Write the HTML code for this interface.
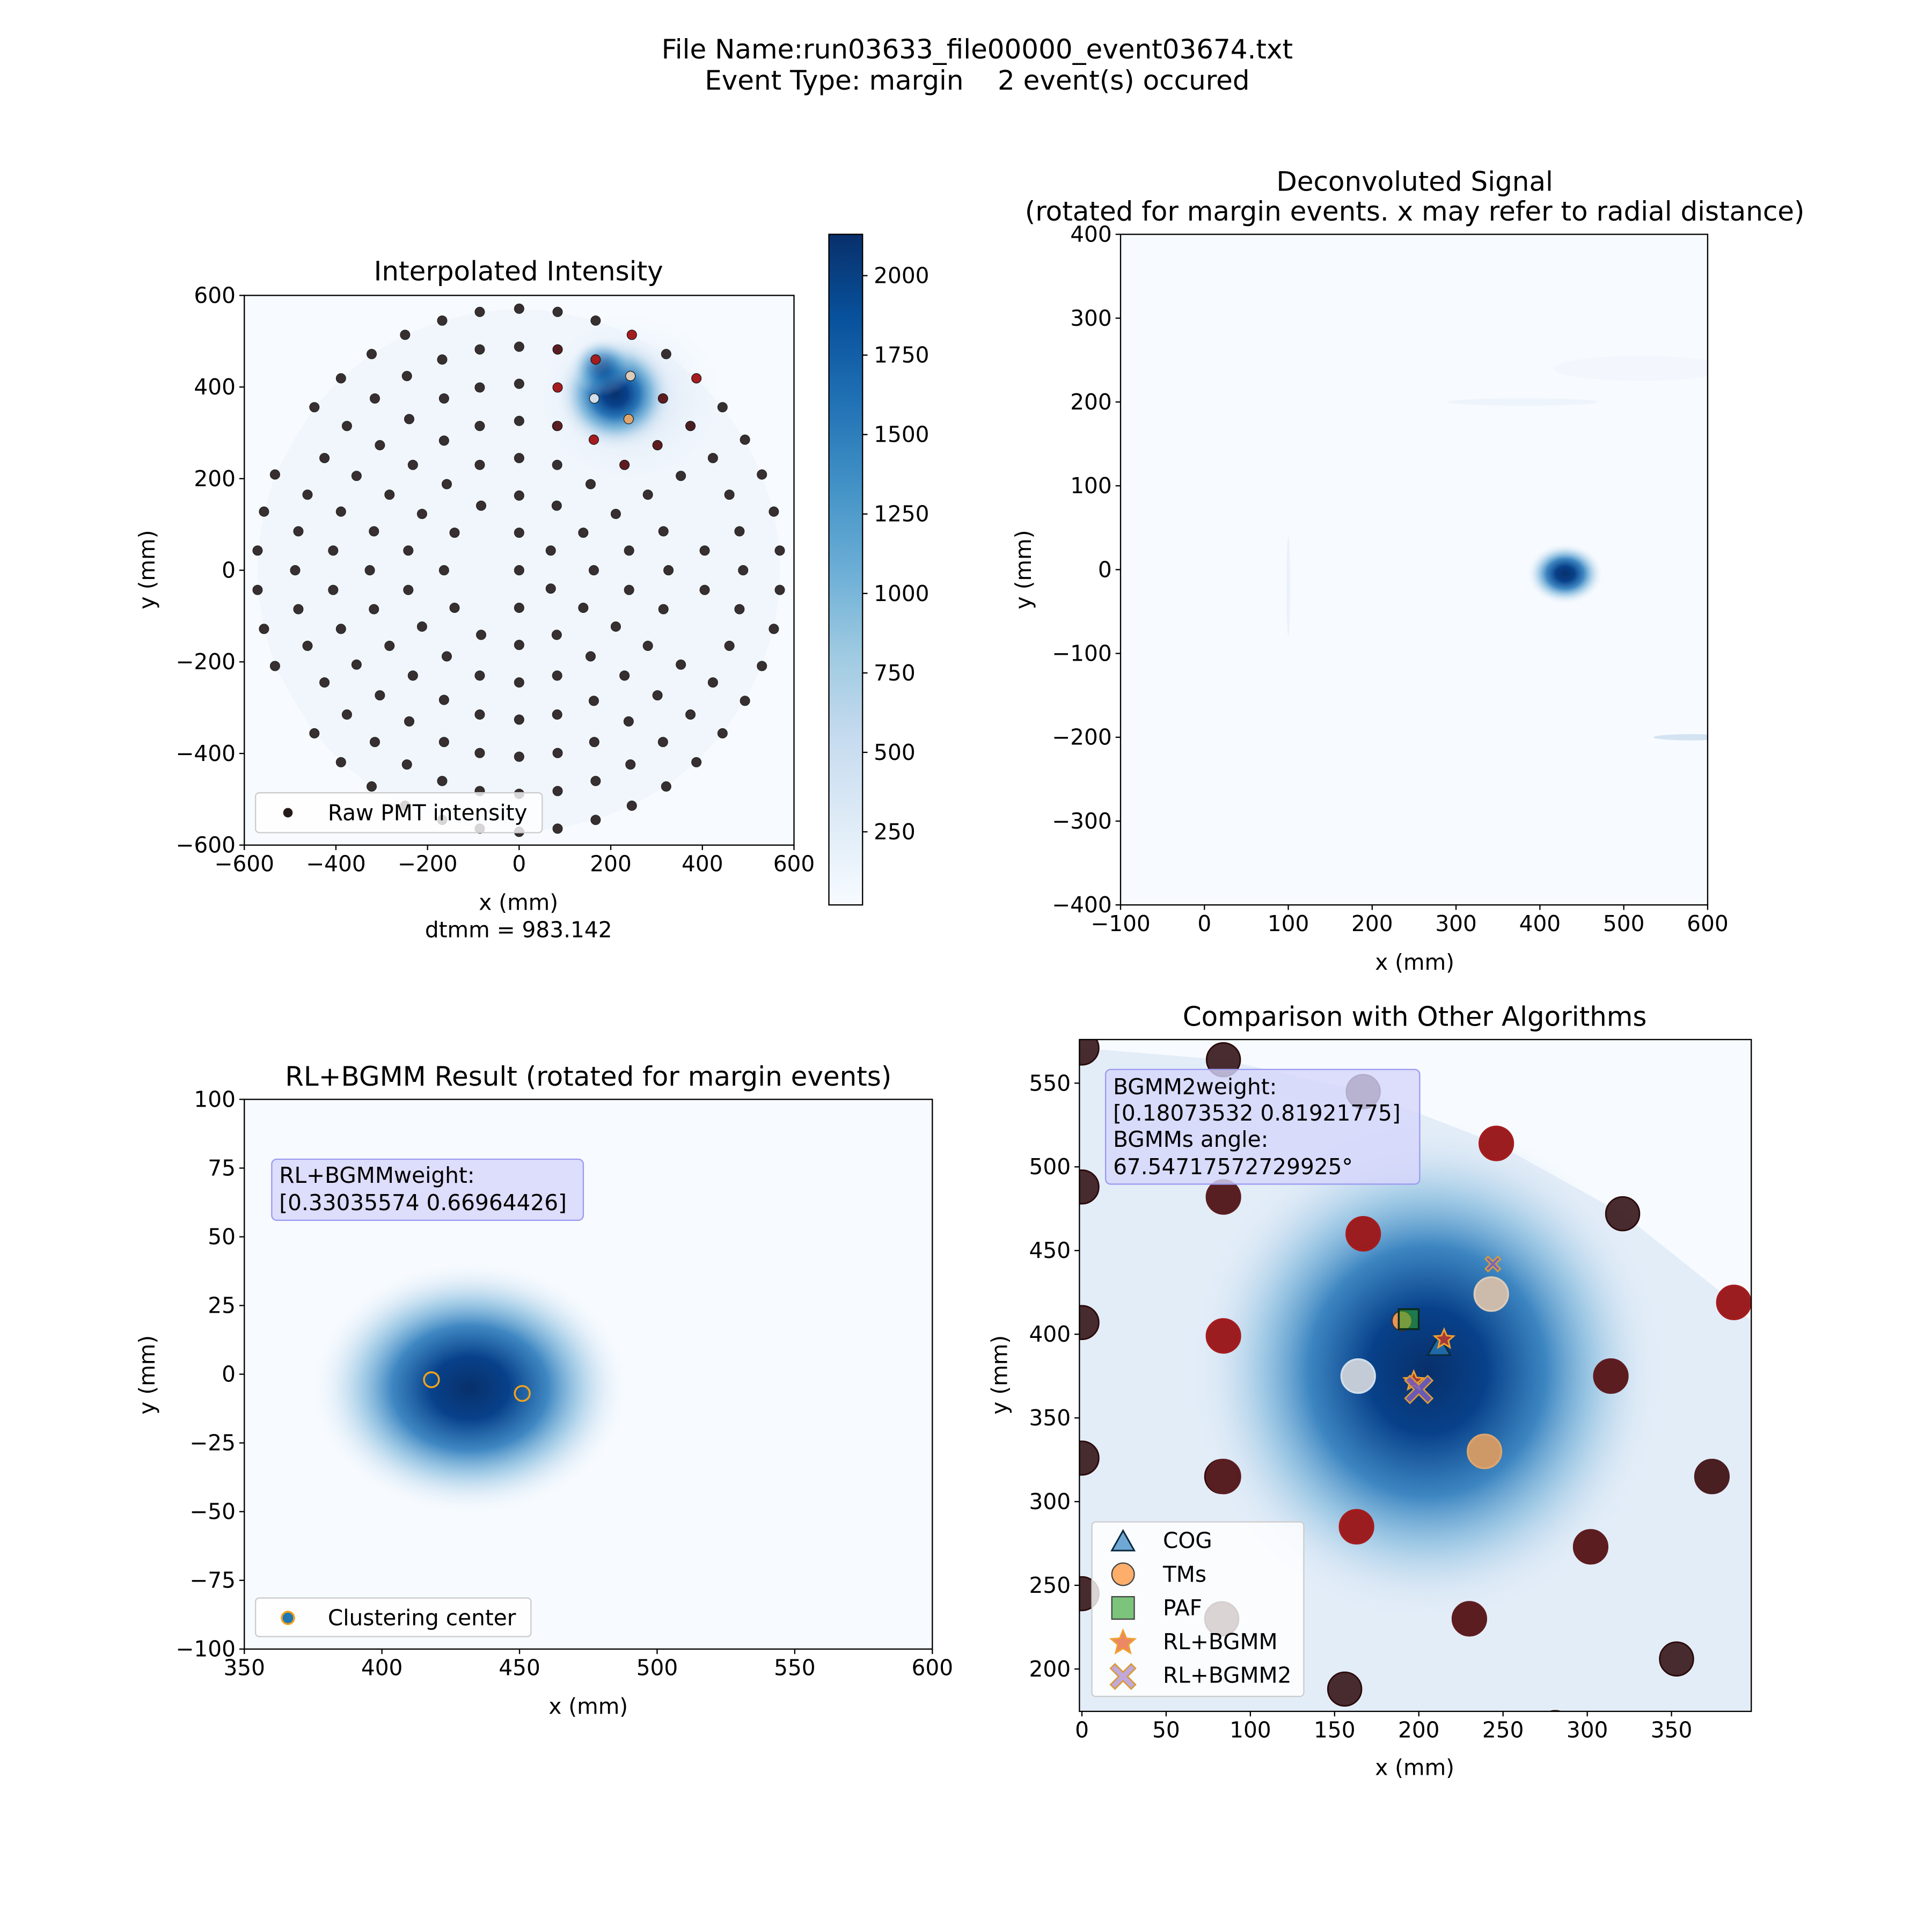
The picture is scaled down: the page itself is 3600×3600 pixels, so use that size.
<!DOCTYPE html>
<html><head><meta charset="utf-8">
<style>
html,body{margin:0;padding:0;background:#fff;width:3600px;height:3600px;overflow:hidden;}
svg{display:block;position:absolute;left:0;top:0;}
text{font-family:"DejaVu Sans","Liberation Sans",sans-serif;fill:#000;}
</style></head>
<body>
<svg id="fig" xmlns="http://www.w3.org/2000/svg" width="3600" height="3600" viewBox="0 0 1550 1550">
<defs>
 <linearGradient id="cbar" x1="0" y1="1" x2="0" y2="0">
  <stop offset="0" stop-color="#f7fbff"/><stop offset="0.125" stop-color="#deebf7"/><stop offset="0.25" stop-color="#c6dbef"/><stop offset="0.375" stop-color="#9ecae1"/><stop offset="0.5" stop-color="#6baed6"/><stop offset="0.625" stop-color="#4292c6"/><stop offset="0.75" stop-color="#2171b5"/><stop offset="0.875" stop-color="#08519c"/><stop offset="1" stop-color="#08306b"/>
 </linearGradient>
 <radialGradient id="blob">
  <stop offset="0" stop-color="#08306b" stop-opacity="1"/><stop offset="0.2" stop-color="#08418a" stop-opacity="1"/><stop offset="0.4" stop-color="#1f6fb3" stop-opacity="0.95"/><stop offset="0.6" stop-color="#5aa3d1" stop-opacity="0.7"/><stop offset="0.8" stop-color="#b3d2ea" stop-opacity="0.35"/><stop offset="1" stop-color="#e6effa" stop-opacity="0"/>
 </radialGradient>
 <radialGradient id="halo">
  <stop offset="0" stop-color="#c6dbef" stop-opacity="0.8"/><stop offset="1" stop-color="#e6effa" stop-opacity="0"/>
 </radialGradient>
 <radialGradient id="blob2">
  <stop offset="0" stop-color="#08306b" stop-opacity="1"/><stop offset="0.25" stop-color="#08418a" stop-opacity="1"/><stop offset="0.5" stop-color="#2a7abb" stop-opacity="0.9"/><stop offset="0.7" stop-color="#74b2d9" stop-opacity="0.6"/><stop offset="0.88" stop-color="#c4dbef" stop-opacity="0.3"/><stop offset="1" stop-color="#dde9f6" stop-opacity="0"/>
 </radialGradient>
 <clipPath id="c1"><rect x="196" y="237" width="441" height="441"/></clipPath>
 <clipPath id="c2"><rect x="899" y="188" width="471" height="538"/></clipPath>
 <clipPath id="c3"><rect x="196" y="882" width="552" height="441"/></clipPath>
 <clipPath id="c4"><rect x="866" y="834" width="539" height="539"/></clipPath>
</defs>
<g id="root"></g>
</svg>
<script>
// ---- data ----
const pmtX = [-571,-406,-242,69,240,405,569,-482,-317,-141,0,140,315,481,-557,-389,-212,211,556,-462,-283,0,281,459,-158,156,-83,82,-533,-355,353,530,-232,-86,83,230,-425,0,423,-304,302,-164,163,493,-376,-86,83,374,0,-240,239,-447,444,-315,-164,164,314,-86,84,0,-389,387,-245,243,-168,167,-86,84,0,-322,321,-249,246,-168,167,-86,84,0,
 -489,-326,-164,0,163,326,489,
 -571,-406,-242,69,240,405,569,-482,-317,-141,0,140,315,481,-557,-389,-212,211,556,-462,-283,0,281,459,-158,156,-83,82,-533,-355,353,530,-232,-86,83,230,-425,0,423,-304,302,-164,163,493,-376,-86,83,374,0,-240,239,-447,444,-315,-164,164,314,-86,84,0,-389,387,-245,243,-168,167,-86,84,0,-322,321,-249,246,-168,167,-86,84,0];
const pmtY = [43,43,43,43,43,43,43,85,85,82,82,82,85,85,128,128,123,123,128,165,165,163,165,165,188,188,141,141,209,206,206,209,230,230,230,230,245,245,245,273,273,283,285,285,315,315,315,315,326,330,330,356,356,375,375,375,375,399,399,407,419,419,424,424,460,460,482,482,488,472,472,514,514,545,545,564,564,571,
 0,0,0,0,0,0,0,
 -43,-43,-43,-40,-43,-43,-43,-85,-85,-82,-82,-82,-85,-85,-128,-128,-123,-123,-128,-165,-165,-163,-165,-165,-188,-188,-141,-141,-209,-206,-206,-209,-230,-230,-230,-230,-245,-245,-245,-273,-273,-283,-285,-285,-315,-315,-315,-315,-326,-330,-330,-356,-356,-375,-375,-375,-375,-399,-399,-407,-419,-419,-424,-424,-460,-460,-482,-482,-488,-472,-472,-514,-514,-545,-545,-564,-564,-571];
const hiX = [246,167,84,387,163,314,374,302,230,84,84,164,243,239];
const hiY = [514,460,399,419,285,375,315,273,230,482,315,375,424,330];
const hiC = ['#a51c1e','#a51c1e','#a51c1e','#a51c1e','#a51c1e','#5e1c20','#4a1e21','#5e1c20','#5e1c20','#5a1e22','#5a1e22','#d2deea','#dccbb9','#dea56e'];
const cbTicks = [250,500,750,1000,1250,1500,1750,2000];
const p1Ticks = [-600,-400,-200,0,200,400,600];
const p2XTicks = [-100,0,100,200,300,400,500,600];
const p2YTicks = [-400,-300,-200,-100,0,100,200,300,400];
const p3XTicks = [350,400,450,500,550,600];
const p3YTicks = [-100,-75,-50,-25,0,25,50,75,100];
const p4XTicks = [0,50,100,150,200,250,300,350];
const p4YTicks = [200,250,300,350,400,450,500,550];
const centerX = [418,451];
const centerY = [-2,-7];
const blob1 = [210,385]; const blob2 = [430,-5]; const blob3 = [432,-5]; const blob4 = [205,378];
const cogX=[212], cogY=[392];
const tmX=[190], tmY=[408];
const pafX=[194], pafY=[409];
const rlX=[215,197], rlY=[397,372];
const rl2X=[200,244], rl2Y=[367,442];

const FS=17.5, TS=21.5;
// ---- helpers ----
const NS='http://www.w3.org/2000/svg';
const root=document.getElementById('root');
function mk(tag,attrs,parent,txt){const e=document.createElementNS(NS,tag);for(const k in attrs)e.setAttribute(k,attrs[k]);if(txt!==undefined)e.textContent=txt;(parent||root).appendChild(e);return e;}
function lin(d0,d1,p0,p1){return v=>p0+(v-d0)*(p1-p0)/(d1-d0);}
function fmt(v){return v<0?'\u2212'+(-v):''+v;}
function axes(g,x0,y0,w,h,sx,sy,xt,yt,name){
  const f=mk('rect',{x:x0,y:y0,width:w,height:h,fill:'none',stroke:'#000','stroke-width':1},g);
  
  xt.forEach(t=>{const X=sx(t);mk('line',{x1:X,y1:y0+h,x2:X,y2:y0+h+4,stroke:'#000'},g);
    const tx=mk('text',{x:X,y:y0+h+21,'font-size':FS,'text-anchor':'middle'},g,fmt(t));
    });
  yt.forEach(t=>{const Y=sy(t);mk('line',{x1:x0-4,y1:Y,x2:x0,y2:Y,stroke:'#000'},g);
    const tx=mk('text',{x:x0-7,y:Y+6,'font-size':FS,'text-anchor':'end'},g,fmt(t));
    });
}
function label(txt,x,y,size,name,rot){const a={x:x,y:y,'font-size':size,'text-anchor':'middle'};if(rot)a.transform='rotate(-90 '+x+' '+y+')';const t=mk('text',a,root,txt);return t;}
function hull(sx,sy){const o=[[0,571],[84,564],[167,545],[246,514],[321,472],[387,419],[444,356],[493,285],[530,209],[556,128],[569,43],[569,-43],[556,-128],[530,-209],[493,-285],[444,-356],[387,-419],[321,-472],[246,-514],[167,-545],[84,-564],[0,-571],[-84,-564],[-168,-545],[-249,-514],[-322,-472],[-389,-419],[-447,-356],[-491,-285],[-533,-209],[-557,-128],[-571,-43],[-571,43],[-557,128],[-533,209],[-491,285],[-447,356],[-389,419],[-322,472],[-249,514],[-168,545],[-86,564]];return o.map(p=>sx(p[0])+','+sy(p[1])).join(' ');}

// ---- suptitle ----
label('File Name:run03633_file00000_event03674.txt',784,47,TS,'suptitle-file-name');
const st=label('Event Type: margin    2 event(s) occured',784,72,TS,'suptitle-event-type');st.setAttribute('style','white-space:pre');

// ---- panel 1 ----
const g1=mk('g',{});
const s1x=lin(-600,600,196,637), s1y=lin(-600,600,678,237);
const im1=mk('g',{'clip-path':'url(#c1)'},g1);
mk('rect',{x:196,y:237,width:441,height:441,fill:'#f7fbff'},im1);
mk('polygon',{points:hull(s1x,s1y),fill:'#f1f6fc'},im1);
mk('ellipse',{cx:s1x(blob1[0]+30),cy:s1y(blob1[1]-10),rx:75,ry:68,fill:'url(#halo)'},im1);
mk('ellipse',{cx:s1x(blob1[0]),cy:s1y(blob1[1]),rx:48,ry:46,fill:'url(#blob)'},im1);
mk('ellipse',{cx:s1x(blob1[0]-30),cy:s1y(blob1[1]+60),rx:26,ry:24,fill:'url(#blob)',opacity:0.5},im1);
for(let i=0;i<pmtX.length;i++){const c=mk('circle',{cx:s1x(pmtX[i]),cy:s1y(pmtY[i]),r:3.8,fill:'#241a1a',stroke:'#111','stroke-width':0.6,opacity:0.9},g1);
 }
for(let i=0;i<hiX.length;i++){const c=mk('circle',{cx:s1x(hiX[i]),cy:s1y(hiY[i]),r:3.8,fill:hiC[i],stroke:'#111','stroke-width':0.4},g1);
 }
axes(g1,196,237,441,441,s1x,s1y,p1Ticks,p1Ticks,'panel1');
label('Interpolated Intensity',416,225,TS,'panel1-title');
label('x (mm)',416,730,FS,'panel1-x-label');
label('dtmm = 983.142',416,752,FS,'panel1-dtmm');
label('y (mm)',124,457,FS,'panel1-y-label',true);
const lg1=mk('g',{},g1);
mk('rect',{x:205,y:636,width:230,height:32,rx:3,fill:'#fff','fill-opacity':0.8,stroke:'#ccc'},lg1);
mk('circle',{cx:231,cy:652,r:3.8,fill:'#241a1a'},lg1);
mk('text',{x:263,y:658,'font-size':FS},lg1,'Raw PMT intensity');
// colorbar
const cb=mk('g',{});
const scb=lin(20,2130,726,188);
mk('rect',{x:665,y:188,width:27,height:538,fill:'url(#cbar)',stroke:'#000'},cb);
cbTicks.forEach(t=>{const Y=scb(t);mk('line',{x1:692,y1:Y,x2:696,y2:Y,stroke:'#000'},cb);const tx=mk('text',{x:701,y:Y+6,'font-size':FS},cb,''+t);});

// ---- panel 2 ----
const g2=mk('g',{});
const s2x=lin(-100,600,899,1370), s2y=lin(-400,400,726,188);
const im2=mk('g',{'clip-path':'url(#c2)'},g2);
mk('rect',{x:899,y:188,width:471,height:538,fill:'#f7fbff'},im2);
mk('ellipse',{cx:s2x(380),cy:s2y(200),rx:60,ry:3,fill:'#e9f1fa',opacity:0.7},im2);
mk('ellipse',{cx:s2x(520),cy:s2y(240),rx:70,ry:10,fill:'#f0f5fb',opacity:0.6},im2);
mk('ellipse',{cx:s2x(580),cy:s2y(-200),rx:30,ry:2.5,fill:'#d3e3f2'},im2);
mk('ellipse',{cx:s2x(100),cy:s2y(-20),rx:1.5,ry:40,fill:'#eaf1fa'},im2);
mk('ellipse',{cx:s2x(blob2[0]),cy:s2y(blob2[1]),rx:30,ry:24,fill:'url(#blob2)'},im2);
axes(g2,899,188,471,538,s2x,s2y,p2XTicks,p2YTicks,'panel2');
label('Deconvoluted Signal',1135,153,TS,'panel2-title');
label('(rotated for margin events. x may refer to radial distance)',1135,177,TS,'panel2-subtitle');
label('x (mm)',1135,778,FS,'panel2-x-label');
label('y (mm)',827,457,FS,'panel2-y-label',true);

// ---- panel 3 ----
const g3=mk('g',{});
const s3x=lin(350,600,196,748), s3y=lin(-100,100,1323,882);
const im3=mk('g',{'clip-path':'url(#c3)'},g3);
mk('rect',{x:196,y:882,width:552,height:441,fill:'#f7fbff'},im3);
mk('ellipse',{cx:s3x(blob3[0]),cy:s3y(blob3[1]),rx:125,ry:100,fill:'url(#blob2)'},im3);
for(let i=0;i<centerX.length;i++){const c=mk('circle',{cx:s3x(centerX[i]),cy:s3y(centerY[i]),r:6,fill:'#1f77b4','fill-opacity':0.15,stroke:'#f2a21d','stroke-width':1.5},g3);
 }
axes(g3,196,882,552,441,s3x,s3y,p3XTicks,p3YTicks,'panel3');
label('RL+BGMM Result (rotated for margin events)',472,871,TS,'panel3-title');
label('x (mm)',472,1375,FS,'panel3-x-label');
label('y (mm)',124,1103,FS,'panel3-y-label',true);
const tb3=mk('g',{},g3);
mk('rect',{x:218,y:930,width:250,height:49,rx:4,fill:'#d6d6fb','fill-opacity':0.8,stroke:'#9b9bf0'},tb3);
mk('text',{x:224,y:949,'font-size':FS},tb3,'RL+BGMMweight:');
mk('text',{x:224,y:971,'font-size':FS},tb3,'[0.33035574 0.66964426]');
const lg3=mk('g',{},g3);
mk('rect',{x:205,y:1282,width:221,height:31,rx:3,fill:'#fff','fill-opacity':0.8,stroke:'#ccc'},lg3);
mk('circle',{cx:231,cy:1298,r:5,fill:'#1f77b4',stroke:'#f2a21d','stroke-width':1.5},lg3);
mk('text',{x:263,y:1304,'font-size':FS},lg3,'Clustering center');

// ---- panel 4 ----
const g4=mk('g',{});
const s4x=lin(0,350,868,1341), s4y=lin(200,550,1339,869);
const im4=mk('g',{'clip-path':'url(#c4)'},g4);
mk('rect',{x:866,y:834,width:539,height:539,fill:'#f7fbff'},im4);
mk('polygon',{points:hull(s4x,s4y),fill:'#e3edf8'},im4);
mk('ellipse',{cx:s4x(blob4[0]),cy:s4y(blob4[1]),rx:190,ry:200,fill:'url(#blob2)'},im4);
const pm4=mk('g',{'clip-path':'url(#c4)'},g4);
for(let i=0;i<pmtX.length;i++){const c=mk('circle',{cx:s4x(pmtX[i]),cy:s4y(pmtY[i]),r:13.5,fill:'#3f2124','fill-opacity':0.95,stroke:'#2a0a0a','stroke-width':1.2},pm4);
 }
for(let i=0;i<hiX.length;i++){const c=mk('circle',{cx:s4x(hiX[i]),cy:s4y(hiY[i]),r:13.5,fill:hiC[i],stroke:hiC[i],'stroke-width':1.5,'fill-opacity':0.9},pm4);
 }
function tri(cx,cy,s,fill,parent,name){const p=mk('polygon',{points:(cx)+','+(cy-s)+' '+(cx-s*0.9)+','+(cy+s*0.6)+' '+(cx+s*0.9)+','+(cy+s*0.6),fill:fill,stroke:'#0b2a40','stroke-width':1.3},parent);}
function star(cx,cy,R,fill,parent,name){let pts=[];for(let k=0;k<10;k++){const a=-Math.PI/2+k*Math.PI/5;const r=k%2?R*0.45:R;pts.push((cx+r*Math.cos(a))+','+(cy+r*Math.sin(a)));}const p=mk('polygon',{points:pts.join(' '),fill:fill,stroke:'#f0a030','stroke-width':1.3,'fill-opacity':0.85},parent);}
function xm(cx,cy,s,fill,parent,name){const w=s*0.35;const d='M'+(cx-s)+','+(cy-s+w)+' L'+(cx-s+w)+','+(cy-s)+' L'+cx+','+(cy-w)+' L'+(cx+s-w)+','+(cy-s)+' L'+(cx+s)+','+(cy-s+w)+' L'+(cx+w)+','+cy+' L'+(cx+s)+','+(cy+s-w)+' L'+(cx+s-w)+','+(cy+s)+' L'+cx+','+(cy+w)+' L'+(cx-s+w)+','+(cy+s)+' L'+(cx-s)+','+(cy+s-w)+' L'+(cx-w)+','+cy+' Z';const p=mk('path',{d:d,fill:fill,stroke:'#d99a3a','stroke-width':1.2,'fill-opacity':0.85},parent);}
tmX.forEach((v,i)=>{const c=mk('circle',{cx:s4x(v),cy:s4y(tmY[i]),r:8,fill:'#e8935a',stroke:'#333','stroke-width':1},g4);});
pafX.forEach((v,i)=>{const X=s4x(v),Y=s4y(pafY[i]);const r=mk('rect',{x:X-8,y:Y-8,width:16,height:16,fill:'#2ca02c','fill-opacity':0.6,stroke:'#0b2a1a','stroke-width':1.5},g4);});
cogX.forEach((v,i)=>tri(s4x(v),s4y(cogY[i]),10,'#1f6aa5',g4,'cog-marker'));
rlX.forEach((v,i)=>star(s4x(v),s4y(rlY[i]),8,'#c0392b',g4,'rl-bgmm-marker'));
rl2X.forEach((v,i)=>xm(s4x(v),s4y(rl2Y[i]),i==0?11:6,'#7b5fc0',g4,'rl-bgmm2-marker'));
axes(g4,866,834,539,539,s4x,s4y,p4XTicks,p4YTicks,'panel4');
label('Comparison with Other Algorithms',1135,823,TS,'panel4-title');
label('x (mm)',1135,1424,FS,'panel4-x-label');
label('y (mm)',808,1103,FS,'panel4-y-label',true);
const tb4=mk('g',{},g4);
mk('rect',{x:887,y:858,width:252,height:92,rx:4,fill:'#d6d6fb','fill-opacity':0.8,stroke:'#9b9bf0'},tb4);
mk('text',{x:893,y:878,'font-size':FS},tb4,'BGMM2weight:');
mk('text',{x:893,y:899,'font-size':FS},tb4,'[0.18073532 0.81921775]');
mk('text',{x:893,y:920,'font-size':FS},tb4,'BGMMs angle:');
mk('text',{x:893,y:942,'font-size':FS},tb4,'67.54717572729925°');
const lg4=mk('g',{},g4);
mk('rect',{x:876,y:1221,width:170,height:140,rx:3,fill:'#fff','fill-opacity':0.8,stroke:'#ccc'},lg4);
tri(901,1238,10,'#6fa8d4',lg4,'legend-cog-marker');
mk('circle',{cx:901,cy:1263,r:9,fill:'#fdae6b',stroke:'#444','stroke-width':1},lg4);
mk('rect',{x:892,y:1281,width:18,height:18,fill:'#7cc47c',stroke:'#444','stroke-width':1},lg4);
star(901,1318,10,'#e8734a',lg4,'legend-rl-bgmm-marker');
xm(901,1345,10,'#b49ad6',lg4,'legend-rl-bgmm2-marker');
['COG','TMs','PAF','RL+BGMM','RL+BGMM2'].forEach((t,i)=>{mk('text',{x:933,y:1242+i*27,'font-size':FS},lg4,t);});
</script>
</body></html>
